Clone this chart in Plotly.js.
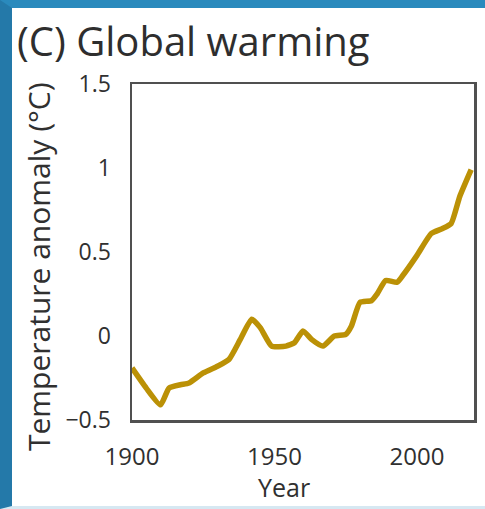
<!DOCTYPE html>
<html>
<head>
<meta charset="utf-8">
<script src="https://cdn.plot.ly/plotly-3.0.1.min.js"></script>
<style>
  html, body { margin: 0; padding: 0; background: #ffffff; }
  #frame { position: absolute; left: 0; top: 0; width: 473px; height: 498px;
           border-left: 12px solid #2479a9; border-top: 8px solid #2a8abd;
           border-bottom: 3px solid #d6e8f2; background: #ffffff; }
  #chart { width: 473px; height: 498px; }
</style>
</head>
<body>
<div id="frame"><div id="chart"></div></div>
<script>
// Global temperature anomaly (°C)
const years = [1900, 1905, 1910, 1913, 1917, 1920, 1925, 1930, 1934, 1938, 1942, 1945, 1949, 1954, 1957, 1960, 1963, 1967, 1971, 1975, 1977, 1980, 1984, 1986, 1989, 1993, 1995, 2000, 2005, 2009, 2012, 2015, 2019];
const anomaly = [-0.19, -0.31, -0.41, -0.31, -0.29, -0.28, -0.22, -0.18, -0.14, -0.02, 0.10, 0.05, -0.06, -0.06, -0.04, 0.03, -0.02, -0.06, 0.00, 0.01, 0.06, 0.20, 0.21, 0.25, 0.33, 0.32, 0.36, 0.48, 0.61, 0.64, 0.67, 0.83, 0.99];
const xTicks = [1900, 1950, 2000];
const yTicks = [-0.5, 0, 0.5, 1, 1.5];
const yTickText = ['\u22120.5', '0', '0.5', '1', '1.5'];
const titleText = '(C) Global warming';
const xTitleText = 'Year';
const yTitleText = 'Temperature anomaly (\u00B0C)';

const textColor = '#303030';
const FONT = 'Open Sans, sans-serif';

const trace = {
  x: years, y: anomaly, type: 'scatter', mode: 'lines',
  line: { color: '#bb9106', width: 5.5, shape: 'spline', smoothing: 0.5 },
  hoverinfo: 'skip'
};

const layout = {
  width: 473, height: 498,
  margin: { l: 120, r: 11, t: 76, b: 86 },
  paper_bgcolor: '#ffffff', plot_bgcolor: '#ffffff',
  showlegend: false,
  font: { family: FONT, color: textColor },
  xaxis: {
    range: [1900, 2020], tickvals: xTicks, ticktext: xTicks.map(String),
    showgrid: false, zeroline: false,
    showline: true, mirror: true, linecolor: '#505050', linewidth: 2.5,
    ticks: '', ticklabelstandoff: 14,
    tickfont: { family: FONT, size: 24, color: textColor }
  },
  yaxis: {
    range: [-0.5, 1.5], tickvals: yTicks, ticktext: yTickText,
    showgrid: false, zeroline: false,
    showline: true, mirror: true, linecolor: '#505050', linewidth: 2.5,
    ticks: '', ticklabelstandoff: 14,
    tickfont: { family: FONT, size: 23, color: textColor }
  },
  annotations: [
    { text: titleText, xref: 'paper', yref: 'paper', x: -0.342, y: 1.128,
      xanchor: 'left', yanchor: 'middle', showarrow: false,
      font: { family: FONT, size: 40, color: '#2e2e2e' } },
    { text: xTitleText, xref: 'paper', yref: 'paper', x: 0.444, y: -0.199,
      xanchor: 'center', yanchor: 'middle', showarrow: false,
      font: { family: FONT, size: 25, color: textColor } },
    { text: yTitleText, xref: 'paper', yref: 'paper', x: -0.275, y: 0.458,
      xanchor: 'center', yanchor: 'middle', showarrow: false, textangle: -90,
      font: { family: FONT, size: 30, color: textColor } }
  ]
};

Plotly.newPlot('chart', [trace], layout, { displayModeBar: false, staticPlot: true });
</script>
</body>
</html>
